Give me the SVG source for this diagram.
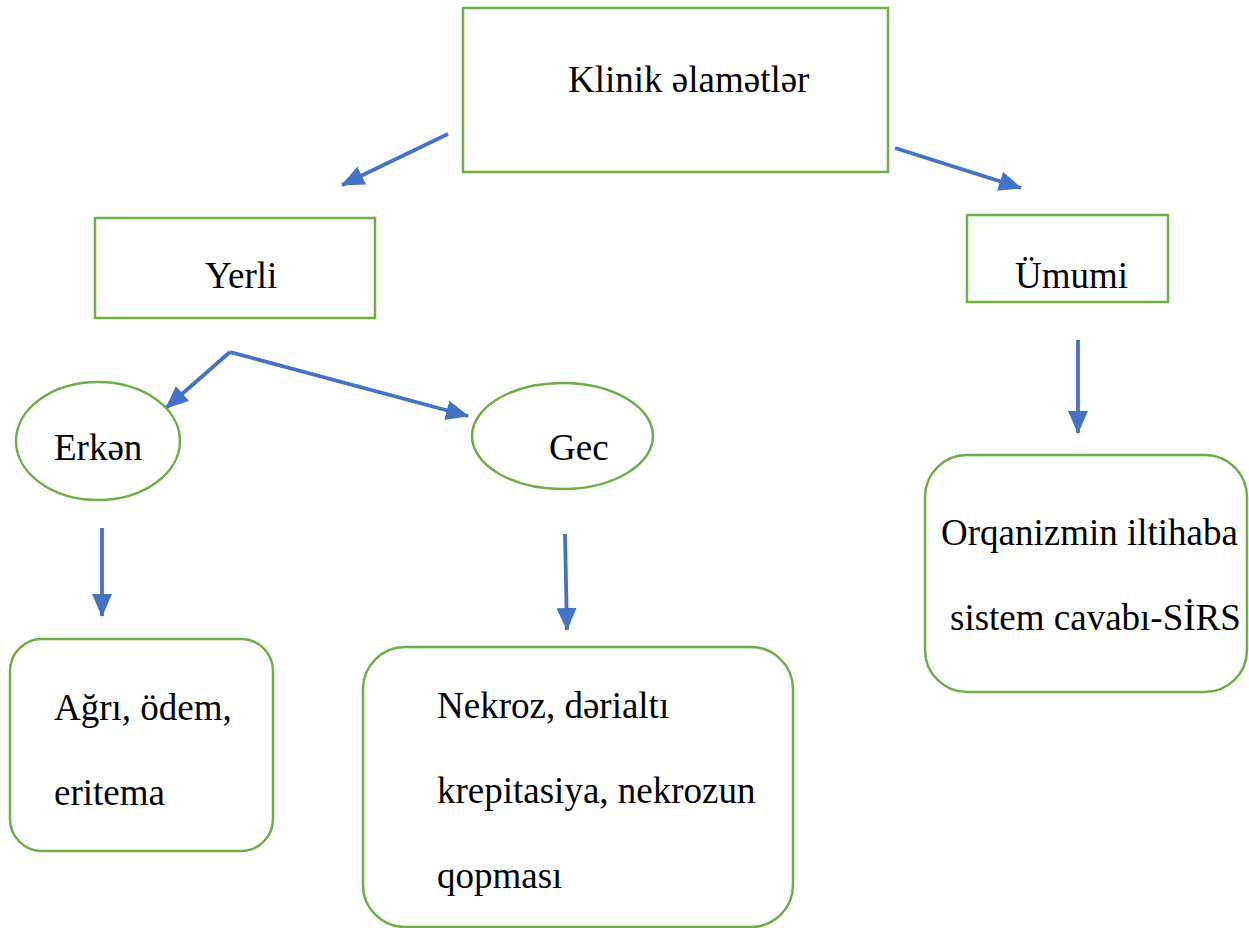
<svg xmlns="http://www.w3.org/2000/svg" width="1249" height="928" viewBox="0 0 1249 928">
<style>
.n{fill:#fff;stroke:#70AD47;stroke-width:2.5}
.t{font-family:"Liberation Serif","DejaVu Serif","Times New Roman",serif;font-size:37px;fill:#000}
.c{stroke:#4472C4;stroke-width:3.8;fill:none;marker-end:url(#ah)}
</style>
<defs>
<marker id="ah" markerUnits="userSpaceOnUse" markerWidth="24" markerHeight="20" refX="22" refY="10" orient="auto">
<path d="M0,0 L23,10 L0,20 Z" fill="#4472C4"/>
</marker>
</defs>
<rect width="1249" height="928" fill="#fff"/>
<g id="connectors">
<line class="c" x1="448" y1="134" x2="342" y2="185"/>
<line class="c" x1="895" y1="148" x2="1021" y2="188"/>
<line class="c" x1="230" y1="352" x2="166" y2="408"/>
<line class="c" x1="230" y1="352" x2="468" y2="416"/>
<line class="c" x1="102" y1="528" x2="102" y2="616"/>
<line class="c" x1="565" y1="534" x2="567" y2="630"/>
<line class="c" x1="1078" y1="340" x2="1078" y2="433"/>
</g>
<g id="klinik">
<rect class="n" x="463" y="8" width="425" height="164"/>
<text class="t" x="568" y="92">Klinik əlamətlər</text>
</g>
<g id="yerli">
<rect class="n" x="95" y="218" width="280" height="100"/>
<text class="t" x="205" y="288">Yerli</text>
</g>
<g id="umumi">
<rect class="n" x="967" y="215" width="201" height="87"/>
<text class="t" x="1015" y="288">Ümumi</text>
</g>
<g id="erken">
<ellipse class="n" cx="98" cy="441" rx="82" ry="59"/>
<text class="t" x="54" y="460">Erkən</text>
</g>
<g id="gec">
<ellipse class="n" cx="562.5" cy="436" rx="90.5" ry="53"/>
<text class="t" x="549" y="460">Gec</text>
</g>
<g id="agri">
<rect class="n" x="10" y="639" width="263" height="212" rx="32"/>
<text class="t" x="54" y="720">Ağrı, ödem,</text>
<text class="t" x="54" y="805">eritema</text>
</g>
<g id="nekroz">
<rect class="n" x="363" y="647" width="430" height="280" rx="42"/>
<text class="t" x="437" y="718">Nekroz, dərialtı</text>
<text class="t" x="437" y="803">krepitasiya, nekrozun</text>
<text class="t" x="437" y="888">qopması</text>
</g>
<g id="sirs">
<rect class="n" x="925" y="455" width="322" height="237" rx="42"/>
<text class="t" x="941" y="545">Orqanizmin iltihaba</text>
<text class="t" x="950" y="630">sistem cavabı-SİRS</text>
</g>
</svg>
